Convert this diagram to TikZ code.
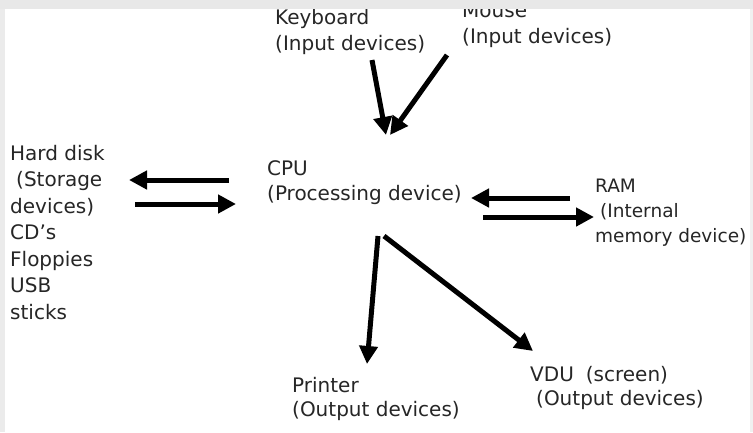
\documentclass[tikz,border=0pt]{standalone}
\usepackage{fontspec}
\setmainfont{DejaVu Sans}
\usetikzlibrary{arrows.meta}

\begin{document}
\begin{tikzpicture}[
  x=1pt, y=-1pt,
  txt/.style={anchor=north west, inner sep=0pt, align=left,
    font=\fontsize{20}{25}\selectfont, text=black!85},
  flow/.style={line width=5pt, -{Triangle[length=18pt,width=18pt]}},
]
\useasboundingbox [fill=white] (0,0) rectangle (753,432);

% labels
\node [txt, font=\fontsize{20}{26}\selectfont] (kbd) at (275,9) {Keyboard\\(Input devices)};
\node [txt, font=\fontsize{20}{26}\selectfont] (mouse) at (462,3) {Mouse\\(Input devices)};
\node [txt, font=\fontsize{20}{26.5}\selectfont] (store) at (10,145)
  {Hard disk\\\hspace{6pt}(Storage\\devices)\\CD's\\Floppies\\USB\\sticks};
\node [txt] (cpu) at (267,160) {CPU\\(Processing device)};
\node [txt, font=\fontsize{18.5}{25}\selectfont] (ram) at (595,179) {RAM\\\hspace{5pt}(Internal\\memory device)};
\node [txt, font=\fontsize{20}{24}\selectfont] (printer) at (292,377) {Printer\\(Output devices)};
\node [txt, font=\fontsize{20}{24}\selectfont] (vdu) at (530,366) {VDU\hspace{12pt}(screen)\\\hspace{6pt}(Output devices)};

% arrow ends
\coordinate (kbd-a) at (372,60);
\coordinate (kbd-b) at (386,135);
\coordinate (mouse-a) at (447,55);
\coordinate (mouse-b) at (390,135);
\coordinate (store-in) at (229,180);
\coordinate (store-tip) at (129,180);
\coordinate (store-out) at (135,204);
\coordinate (cpu-tip) at (236,204);
\coordinate (ram-in) at (570,198);
\coordinate (ram-tip) at (471,198);
\coordinate (ram-out) at (483,217);
\coordinate (ram-end) at (594,217);
\coordinate (cpu-prt) at (378,236);
\coordinate (prt-tip) at (367,364);
\coordinate (cpu-vdu) at (384,236);
\coordinate (vdu-tip) at (533,351);

\draw [flow] (kbd-a) -- (kbd-b);
\draw [flow] (mouse-a) -- (mouse-b);
\draw [flow] (store-in) -- (store-tip);
\draw [flow] (store-out) -- (cpu-tip);
\draw [flow] (ram-in) -- (ram-tip);
\draw [flow] (ram-out) -- (ram-end);
\draw [flow] (cpu-prt) -- (prt-tip);
\draw [flow] (cpu-vdu) -- (vdu-tip);

% window edges
\fill [black!9] (0,0) rectangle (753,9);
\fill [black!8] (0,9) rectangle (5,432);
\fill [black!6] (750,9) rectangle (753,432);
\end{tikzpicture}
\end{document}
